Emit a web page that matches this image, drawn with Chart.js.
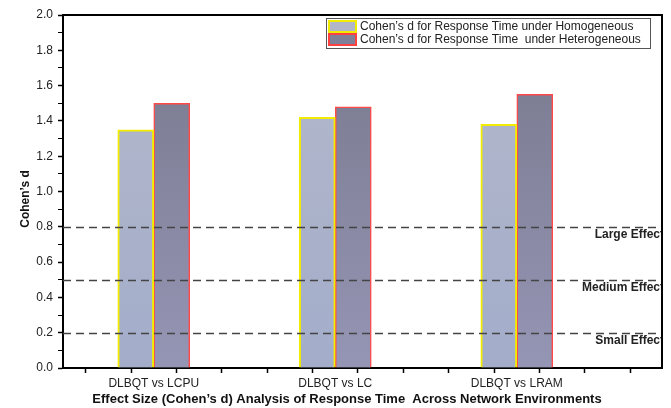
<!DOCTYPE html>
<html lang="en">
<head>
  <meta charset="UTF-8">
  <title>Effect Size (Cohen's d) Analysis of Response Time</title>
  <script src="https://cdn.jsdelivr.net/npm/chart.js"></script>
  <style>
    body { margin: 0; background: white; }
    canvas { display: block; }
  </style>
</head>
<body>
<canvas id="effectChart" width="671" height="408"></canvas>

<script>
  // categories sit at x = 1, 2, 3 on a numeric axis (0.5 .. 3.8)
  const categories = ["DLBQT vs LCPU", "DLBQT vs LC", "DLBQT vs LRAM"];
  const catPositions = [1, 2, 3];
  const homValues = [1.35, 1.42, 1.38];
  const hetValues = [1.50, 1.48, 1.55];
  const seriesNames = [
    "Cohen\u2019s d for Response Time under Homogeneous",
    "Cohen\u2019s d for Response Time  under Heterogeneous"
  ];
  const yTicks = [0, 0.1, 0.2, 0.3, 0.4, 0.5, 0.6, 0.7, 0.8, 0.9, 1.0, 1.1, 1.2, 1.3, 1.4, 1.5, 1.6, 1.7, 1.8, 1.9, 2.0];
  const xTicks = [0.5, 0.75, 1, 1.25, 1.5, 1.75, 2, 2.25, 2.5, 2.75, 3, 3.25, 3.5, 3.75];
  const thresholdValues = [0.8, 0.5, 0.2];
  const thresholdLabels = ["Large Effect", "Medium Effect", "Small Effect"];

  const FONT = "Arial, 'Liberation Sans', sans-serif";

  function gradFill(top, bottom) {
    return function(c) {
      const area = c.chart.chartArea;
      if (!area) return top;
      const g = c.chart.ctx.createLinearGradient(0, area.top, 0, area.bottom);
      g.addColorStop(0, top);
      g.addColorStop(1, bottom);
      return g;
    };
  }

  const homFill = gradFill("#b4b8ca", "#a3adca");
  const hetFill = gradFill("#77788b", "#9595b5");

  // dashed effect lines, frame, legend and axis titles
  const decorPlugin = {
    id: "decor",
    afterDatasetsDraw(chart) {
      const ctx = chart.ctx;
      const a = chart.chartArea;
      const y = chart.scales.y;

      ctx.save();
      ctx.beginPath();
      ctx.rect(a.left, a.top, a.right - a.left, a.bottom - a.top);
      ctx.clip();
      ctx.setLineDash([8, 5]);
      ctx.strokeStyle = "#444";
      ctx.lineWidth = 1.5;
      thresholdValues.forEach(function(v, i) {
        const py = Math.round(y.getPixelForValue(v)) + 0.5;
        ctx.beginPath();
        ctx.moveTo(a.left, py);
        ctx.lineTo(a.right, py);
        ctx.stroke();
        ctx.fillStyle = "#222";
        ctx.font = "bold 12px " + FONT;
        ctx.textAlign = "right";
        ctx.textBaseline = "middle";
        ctx.fillText(thresholdLabels[i], a.right + 2, py + 7);
      });
      ctx.restore();

      // frame (top + right)
      ctx.save();
      ctx.strokeStyle = "#000";
      ctx.lineWidth = 2;
      ctx.beginPath();
      ctx.moveTo(a.left, a.top);
      ctx.lineTo(a.right, a.top);
      ctx.lineTo(a.right, a.bottom);
      ctx.stroke();
      ctx.restore();

      // legend
      ctx.save();
      ctx.strokeStyle = "#555";
      ctx.lineWidth = 1;
      ctx.strokeRect(326.5, 18.5, 324, 30);
      const fills = ["#b2b6c9", "#7f8098"];
      const borders = ["#f2ec00", "#ff4040"];
      for (let i = 0; i < 2; i++) {
        const sy = 21 + i * 13;
        ctx.fillStyle = fills[i];
        ctx.fillRect(329, sy, 27, 11);
        ctx.strokeStyle = borders[i];
        ctx.lineWidth = 2;
        ctx.strokeRect(329, sy, 27, 11);
        ctx.fillStyle = "#222";
        ctx.font = "12px " + FONT;
        ctx.textAlign = "left";
        ctx.textBaseline = "middle";
        ctx.fillText(seriesNames[i], 360, sy + 6);
      }
      ctx.restore();

      // axis titles
      ctx.save();
      ctx.fillStyle = "#111";
      ctx.font = "bold 13px " + FONT;
      ctx.textAlign = "center";
      ctx.textBaseline = "middle";
      ctx.fillText("Effect Size (Cohen\u2019s d) Analysis of Response Time  Across Network Environments", 347, 399);
      ctx.font = "bold 12px " + FONT;
      ctx.translate(26, 199);
      ctx.rotate(-Math.PI / 2);
      ctx.fillText("Cohen\u2019s d", 0, 0);
      ctx.restore();
    }
  };

  const chart = new Chart(document.getElementById("effectChart").getContext("2d"), {
    type: "bar",
    data: {
      datasets: [
        {
          label: seriesNames[0],
          data: catPositions.map((x, i) => ({ x: x, y: homValues[i] })),
          backgroundColor: homFill,
          borderColor: "#f2ec00",
          borderWidth: 2
        },
        {
          label: seriesNames[1],
          data: catPositions.map((x, i) => ({ x: x, y: hetValues[i] })),
          backgroundColor: hetFill,
          borderColor: "#ff4848",
          borderWidth: 1.5
        }
      ]
    },
    options: {
      responsive: false,
      animation: false,
      barThickness: 36,
      layout: { autoPadding: false, padding: { top: 15, right: 9, left: 0, bottom: 0 } },
      plugins: {
        legend: { display: false },
        tooltip: { enabled: false }
      },
      scales: {
        x: {
          type: "linear",
          min: 0.5,
          max: 3.8,
          offset: false,
          afterBuildTicks(scale) { scale.ticks = xTicks.map(v => ({ value: v })); },
          afterFit(scale) { scale.height = 40; },
          border: { display: true, color: "#000", width: 2 },
          grid: { drawOnChartArea: false, drawTicks: true, tickLength: 5, tickColor: "#000", tickWidth: 1.5 },
          ticks: {
            autoSkip: false,
            maxRotation: 0,
            padding: 3,
            color: "#222",
            font: { family: FONT, size: 12 },
            callback(v) {
              const k = catPositions.indexOf(v);
              return k >= 0 ? categories[k] : "";
            }
          }
        },
        y: {
          min: 0,
          max: 2,
          afterBuildTicks(scale) { scale.ticks = yTicks.map(v => ({ value: v })); },
          afterFit(scale) { scale.width = 63; },
          border: { display: true, color: "#000", width: 2 },
          grid: {
            drawOnChartArea: false,
            drawTicks: true,
            tickLength: 5,
            tickColor: "#000",
            tickWidth: c => (Math.round(c.tick.value * 10) % 2 === 0 ? 1.5 : 1)
          },
          ticks: {
            autoSkip: false,
            padding: 5,
            color: "#222",
            font: { family: FONT, size: 12 },
            callback(v) {
              return Math.round(v * 10) % 2 === 0 ? v.toFixed(1) : "";
            }
          }
        }
      }
    },
    plugins: [decorPlugin]
  });
</script>
</body>
</html>
